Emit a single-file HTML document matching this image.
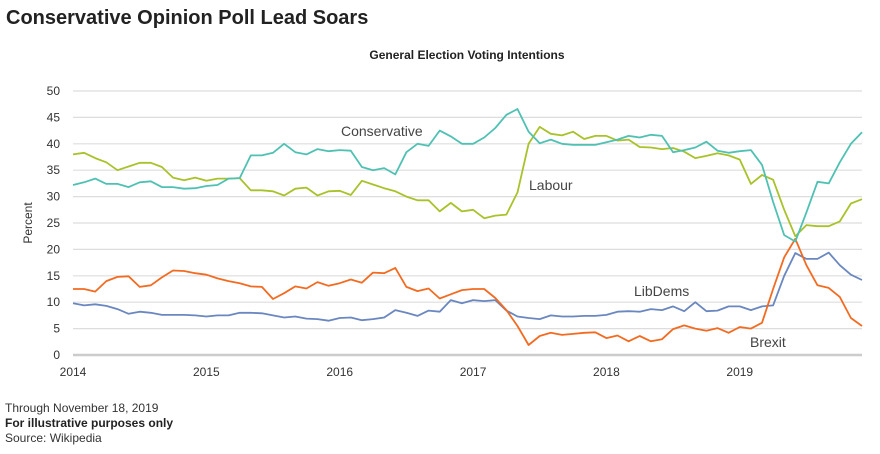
<!DOCTYPE html>
<html><head><meta charset="utf-8"><style>
body{margin:0;background:#fff;width:880px;height:449px;overflow:hidden;font-family:"Liberation Sans",sans-serif;}
svg text{font-family:"Liberation Sans",sans-serif;}
</style></head><body>
<svg id="chart" width="880" height="449">
<text x="6" y="24" font-size="20" font-weight="bold" fill="#222">Conservative Opinion Poll Lead Soars</text>
<text x="467" y="59" font-size="12" font-weight="bold" text-anchor="middle" fill="#222">General Election Voting Intentions</text>
<text transform="translate(32,223) rotate(-90)" font-size="12" text-anchor="middle" fill="#333">Percent</text>
<g id="grid"></g><g id="series"></g>
<text x="5" y="412" font-size="12" fill="#333">Through November 18, 2019</text>
<text x="5" y="427" font-size="12" font-weight="bold" fill="#222">For illustrative purposes only</text>
<text x="5" y="442" font-size="12" fill="#333">Source: Wikipedia</text>
</svg>
<script>
const yTicks=[0,5,10,15,20,25,30,35,40,45,50];
const xYears=["2014","2015","2016","2017","2018","2019"];
const conservative=[32.2,32.7,33.4,32.4,32.4,31.8,32.7,32.9,31.8,31.8,31.5,31.6,32.0,32.2,33.4,33.5,37.8,37.8,38.3,40.0,38.4,38.0,39.0,38.6,38.8,38.7,35.6,35.0,35.4,34.2,38.4,40.0,39.6,42.5,41.4,40.0,40.0,41.2,43.0,45.5,46.6,42.3,40.1,40.8,40.0,39.8,39.8,39.8,40.3,40.8,41.5,41.2,41.7,41.5,38.4,38.8,39.3,40.4,38.7,38.3,38.6,38.8,36.0,29.0,22.7,21.5,27.0,32.8,32.5,36.5,40.0,42.2];
const labour=[38.0,38.3,37.3,36.5,35.0,35.7,36.4,36.4,35.6,33.6,33.1,33.6,33.0,33.4,33.4,33.5,31.2,31.2,31.0,30.2,31.5,31.7,30.2,31.0,31.1,30.3,33.0,32.3,31.6,31.0,30.0,29.3,29.3,27.2,28.8,27.2,27.5,25.9,26.4,26.6,30.8,40.0,43.2,41.9,41.6,42.3,40.9,41.5,41.5,40.6,40.8,39.4,39.3,39.0,39.2,38.5,37.3,37.7,38.2,37.8,37.0,32.4,34.1,33.2,27.5,22.5,24.6,24.4,24.4,25.3,28.7,29.5];
const brexit=[12.5,12.5,12.0,14.0,14.8,14.9,12.9,13.2,14.7,16.0,15.9,15.5,15.2,14.5,14.0,13.6,13.0,12.9,10.6,11.7,13.0,12.6,13.8,13.1,13.6,14.3,13.7,15.6,15.5,16.5,12.9,12.1,12.6,10.7,11.5,12.3,12.5,12.5,10.8,8.5,5.5,1.9,3.6,4.2,3.8,4.0,4.2,4.3,3.2,3.7,2.6,3.6,2.6,3.0,4.9,5.6,5.0,4.6,5.1,4.2,5.3,5.0,6.1,12.5,18.5,22.0,17.0,13.2,12.7,11.0,7.0,5.5];
const libdems=[9.8,9.4,9.6,9.3,8.7,7.8,8.2,8.0,7.6,7.6,7.6,7.5,7.3,7.5,7.5,8.0,8.0,7.9,7.5,7.1,7.3,6.9,6.8,6.5,7.0,7.1,6.6,6.8,7.1,8.5,8.0,7.4,8.4,8.2,10.4,9.8,10.4,10.2,10.4,8.4,7.3,7.0,6.8,7.5,7.3,7.3,7.4,7.4,7.6,8.2,8.3,8.2,8.7,8.5,9.2,8.3,10.0,8.3,8.4,9.2,9.2,8.5,9.2,9.4,15.0,19.3,18.2,18.2,19.4,17.0,15.2,14.2];
const X0=73,X1=862,Y0=355,Y1=91;
const yS=v=>Y0-(v/50)*(Y0-Y1);
const xS=i=>X0+i*(X1-X0)/71;
const NS="http://www.w3.org/2000/svg";
const grid=document.getElementById('grid'),ser=document.getElementById('series');
function mk(tag,attrs,parent){const e=document.createElementNS(NS,tag);for(const k in attrs)e.setAttribute(k,attrs[k]);parent.appendChild(e);return e;}
yTicks.forEach(t=>{
 const l=mk('line',{x1:X0,x2:X1,y1:yS(t),y2:yS(t),stroke:t===0?'#ccc':'#ddd','stroke-width':t===0?2.5:1.2},grid);
 
 
 const tx=mk('text',{x:60,y:yS(t)+4,'font-size':12,'text-anchor':'end',fill:'#333'},grid);tx.textContent=t;
 
 
});
xYears.forEach((y,k)=>{
 const tx=mk('text',{x:xS(k*12),y:376,'font-size':12,'text-anchor':'middle',fill:'#333'},grid);tx.textContent=y;
 
 
});
function line(data,color,name,label,lx,ly){
 const n=data.length;
 const pts=data.map((v,i)=>(X0+i*(X1-X0)/(n-1)).toFixed(1)+','+yS(v).toFixed(1)).join(' ');
 const p=mk('polyline',{points:pts,fill:'none',stroke:color,'stroke-width':1.8,'stroke-linejoin':'round'},ser);
 
 
 const t=mk('text',{x:lx,y:ly,'font-size':14,fill:'#444'},ser);t.textContent=label;
 
 
}
line(libdems,'#6a87bf','libdems','LibDems',634,296);
line(brexit,'#f26b21','brexit','Brexit',750,347);
line(labour,'#a8c22a','labour','Labour',529,190);
line(conservative,'#4fc1b3','conservative','Conservative',341,136);
</script>
</body></html>
